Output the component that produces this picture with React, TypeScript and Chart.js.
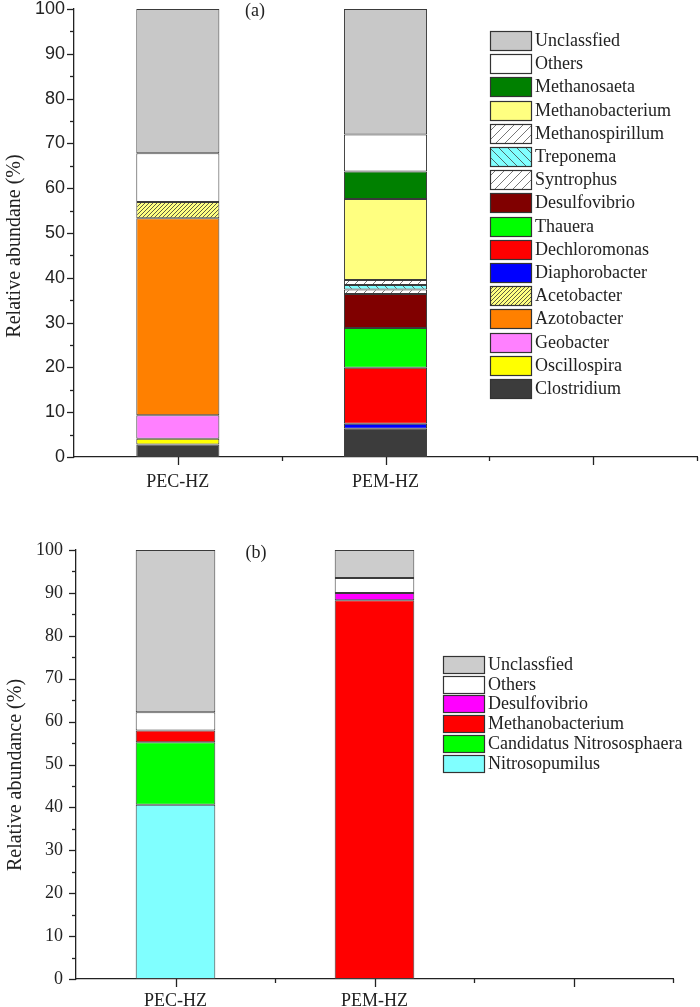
import React, { useEffect, useRef } from "react";
import { Chart, registerables } from "chart.js";
Chart.register(...registerables);

// ---------- data ----------
const SAMPLES = ["PEC-HZ", "PEM-HZ", ""];

// panel (a): stacked from bottom to top
const TAXA_A = [
  "Clostridium", "Oscillospira", "Geobacter", "Azotobacter", "Acetobacter",
  "Diaphorobacter", "Dechloromonas", "Thauera", "Desulfovibrio", "Syntrophus",
  "Treponema", "Methanospirillum", "Methanobacterium", "Methanosaeta", "Others", "Unclassfied",
];
const PEC_A = [2.8, 1.3, 5.2, 44.0, 3.6, 0, 0, 0, 0, 0, 0, 0, 0, 0, 10.9, 32.2];
const PEM_A = [6.3, 0, 0, 0, 0, 1.1, 12.5, 8.9, 7.6, 1.0, 1.0, 1.1, 18.1, 6.1, 8.3, 28.0];

// panel (b)
const TAXA_B = ["Nitrosopumilus", "Candidatus Nitrososphaera", "Methanobacterium", "Desulfovibrio", "Others", "Unclassfied"];
const PEC_B = [40.6, 14.6, 2.7, 0, 4.3, 37.8];
const PEM_B = [0, 0, 88.3, 1.7, 3.5, 6.5];

// ---------- styles ----------
type Fill = string | { bg: string; fg: string; size: number; dir: "/" | "\\"; lw: number };
const FILLS_A: Fill[] = [
  "#3c3c3c", "#ffff00", "#ff80ff", "#ff8000",
  { bg: "#ffff80", fg: "#333333", size: 4, dir: "/", lw: 0.8 },
  "#0000ff", "#ff0000", "#00ff00", "#800000",
  { bg: "#ffffff", fg: "#555555", size: 9, dir: "/", lw: 0.8 },
  { bg: "#80ffff", fg: "#444444", size: 9, dir: "\\", lw: 0.8 },
  { bg: "#ffffff", fg: "#555555", size: 9, dir: "/", lw: 0.8 },
  "#ffff80", "#008000", "#ffffff", "#c8c8c8",
];
const FILLS_B: Fill[] = ["#80ffff", "#00ff00", "#ff0000", "#ff00ff", "#ffffff", "#cccccc"];

const SERIF = "'Times New Roman', 'Liberation Serif', serif";
const SANS = "Arial, 'Liberation Sans', sans-serif";

function hatch(ctx: CanvasRenderingContext2D, f: any) {
  const c = document.createElement("canvas");
  const s = f.size;
  c.width = s;
  c.height = s;
  const g = c.getContext("2d")!;
  g.fillStyle = f.bg;
  g.fillRect(0, 0, s, s);
  g.strokeStyle = f.fg;
  g.lineWidth = f.lw;
  g.beginPath();
  if (f.dir === "/") {
    g.moveTo(-1, 1); g.lineTo(1, -1);
    g.moveTo(0, s); g.lineTo(s, 0);
    g.moveTo(s - 1, s + 1); g.lineTo(s + 1, s - 1);
  } else {
    g.moveTo(-1, s - 1); g.lineTo(1, s + 1);
    g.moveTo(0, 0); g.lineTo(s, s);
    g.moveTo(s - 1, -1); g.lineTo(s + 1, 1);
  }
  g.stroke();
  return ctx.createPattern(c, "repeat")!;
}

type Spec = {
  taxa: string[];
  series: number[][];
  fills: Fill[];
  height: number;
  padTop: number;
  padRight: number;
  yW: number;
  xH: number;
  yFont: any;
  yPad: number;
  xPad: number;
  yTitle: string;
  titleX: number;
  titleY: number;
  titleSize: number;
  panel: string;
  panelX: number;
  panelY: number;
  legend: { x: number; y: number; w: number; h: number; pitch: number; tx: number; size: number };
};

function build(canvas: HTMLCanvasElement, spec: Spec) {
  const ctx = canvas.getContext("2d")!;
  const fills = spec.fills.map((f) => (typeof f === "string" ? f : hatch(ctx, f)));
  const datasets = spec.taxa.map((name, i) => ({
    label: name,
    data: SAMPLES.map((_, j) => {
      const s = spec.series[j];
      if (!s) return null;
      return s[i] === 0 ? null : s[i];
    }),
    backgroundColor: fills[i] as any,
    borderColor: "#3a3a3a",
    borderWidth: 1,
    borderSkipped: false as any,
    barPercentage: 0.4,
    categoryPercentage: 1,
  }));

  const decor = {
    id: "decor",
    afterDraw(chart: any) {
      const c = chart.ctx as CanvasRenderingContext2D;
      const xs = chart.scales.x;
      const ys = chart.scales.y;
      const area = chart.chartArea;
      c.save();
      c.strokeStyle = "#222";
      c.lineWidth = 1.3;
      // y ticks
      for (let v = 0; v <= 100; v += 5) {
        const py = Math.round(ys.getPixelForValue(v)) + 0.5;
        const len = v % 10 === 0 ? 7 : 4;
        c.beginPath();
        c.moveTo(area.left - len, py);
        c.lineTo(area.left, py);
        c.stroke();
      }
      // x ticks: major at categories, minor between
      for (let i = 0; i < SAMPLES.length; i++) {
        const px = Math.round(xs.getPixelForValue(i)) + 0.5;
        c.beginPath();
        c.moveTo(px, area.bottom);
        c.lineTo(px, area.bottom + 8);
        c.stroke();
        const pm = Math.round(xs.getPixelForValue(i + 0.5)) + 0.5;
        c.beginPath();
        c.moveTo(pm, area.bottom);
        c.lineTo(pm, area.bottom + 4);
        c.stroke();
      }
      // y title
      c.fillStyle = "#222";
      c.font = `${spec.titleSize}px ${SERIF}`;
      c.textAlign = "center";
      c.textBaseline = "middle";
      c.save();
      c.translate(spec.titleX, spec.titleY);
      c.rotate(-Math.PI / 2);
      c.fillText(spec.yTitle, 0, 0);
      c.restore();
      // panel label
      c.font = `18px ${SERIF}`;
      c.fillText(spec.panel, spec.panelX, spec.panelY);
      // legend (top item = last dataset)
      const L = spec.legend;
      c.font = `${L.size}px ${SERIF}`;
      c.textAlign = "left";
      const n = spec.taxa.length;
      for (let k = 0; k < n; k++) {
        const i = n - 1 - k;
        const by = Math.round(L.y + k * L.pitch);
        c.fillStyle = fills[i] as any;
        c.fillRect(L.x, by, L.w, L.h);
        c.lineWidth = 1.2;
        c.strokeStyle = "#333";
        c.strokeRect(L.x + 0.5, by + 0.5, L.w, L.h);
        c.fillStyle = "#222";
        c.fillText(spec.taxa[i], L.tx, by + L.h / 2 + 1);
      }
      c.restore();
    },
  };

  return new Chart(canvas, {
    type: "bar",
    data: { labels: SAMPLES, datasets },
    options: {
      responsive: false,
      maintainAspectRatio: false,
      animation: false,
      layout: { padding: { top: spec.padTop, right: spec.padRight, left: 0, bottom: 0 } },
      plugins: { legend: { display: false }, tooltip: { enabled: false } },
      scales: {
        x: {
          stacked: true,
          offset: true,
          grid: { display: false, drawTicks: false },
          border: { display: true, color: "#222", width: 1.3 },
          ticks: { font: { family: SERIF, size: 18 }, color: "#222", padding: spec.xPad, maxRotation: 0, autoSkip: false },
          afterFit: (s: any) => {
            s.height = spec.xH;
            s.paddingLeft = 0;
            s.paddingRight = 0;
          },
        },
        y: {
          stacked: true,
          min: 0,
          max: 100,
          grid: { display: false, drawTicks: false },
          border: { display: true, color: "#222", width: 1.3 },
          ticks: {
            stepSize: 5,
            autoSkip: false,
            callback: (v: any) => (Number(v) % 10 === 0 ? String(v) : ""),
            font: spec.yFont,
            color: "#222",
            padding: spec.yPad,
          },
          afterFit: (s: any) => {
            s.width = spec.yW;
            s.paddingTop = 0;
            s.paddingBottom = 0;
          },
        },
      },
    },
    plugins: [decor],
  } as any);
}

const SPEC_A: Spec = {
  taxa: TAXA_A,
  series: [PEC_A, PEM_A],
  fills: FILLS_A,
  height: 520,
  padTop: 9,
  padRight: 3,
  yW: 74,
  xH: 63,
  yFont: { family: SANS, size: 18 },
  yPad: 9,
  xPad: 14,
  yTitle: "Relative abundane (%)",
  titleX: 15,
  titleY: 246,
  titleSize: 20,
  panel: "(a)",
  panelX: 255,
  panelY: 11,
  legend: { x: 490, y: 31, w: 41, h: 19, pitch: 23.2, tx: 535, size: 18 },
};

const SPEC_B: Spec = {
  taxa: TAXA_B,
  series: [PEC_B, PEM_B],
  fills: FILLS_B,
  height: 500,
  padTop: 20,
  padRight: 27,
  yW: 76,
  xH: 51,
  yFont: { family: SERIF, size: 18 },
  yPad: 13,
  xPad: 11,
  yTitle: "Relative abundance (%)",
  titleX: 16,
  titleY: 245,
  titleSize: 20,
  panel: "(b)",
  panelX: 256,
  panelY: 23,
  legend: { x: 443, y: 126, w: 41, h: 17, pitch: 19.7, tx: 488, size: 18 },
};

function Panel({ spec, top }: { spec: Spec; top: number }) {
  const ref = useRef<HTMLCanvasElement>(null);
  useEffect(() => {
    const ch = build(ref.current!, spec);
    return () => ch.destroy();
  }, [spec]);
  return (
    <canvas
      ref={ref}
      width={700}
      height={spec.height}
      style={{ position: "absolute", left: 0, top, width: 700, height: spec.height }}
    />
  );
}

export default function App() {
  return (
    <div style={{ position: "absolute", left: 0, top: 0, width: 700, height: 1007, overflow: "hidden", background: "#fff" }}>
      <Panel spec={SPEC_A} top={0} />
      <Panel spec={SPEC_B} top={530} />
    </div>
  );
}
